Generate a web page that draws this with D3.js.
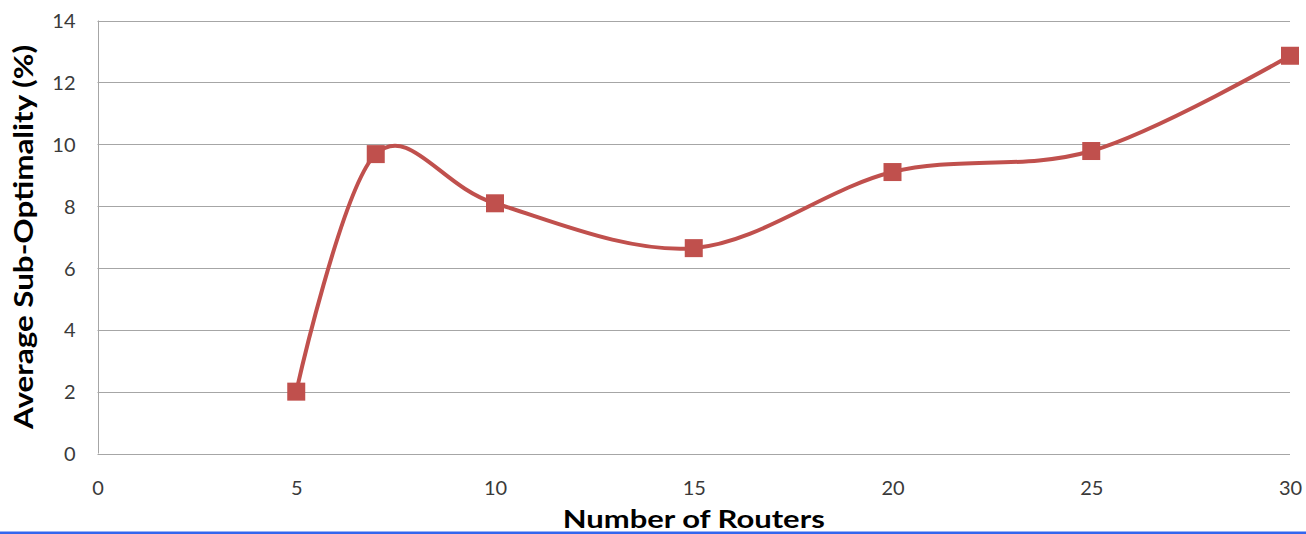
<!DOCTYPE html>
<html>
<head>
<meta charset="utf-8">
<script src="https://cdn.jsdelivr.net/npm/d3@7"></script>
<style>
  html, body { margin: 0; padding: 0; background: #fff; }
  svg { display: block; }
</style>
</head>
<body>
<svg id="chart" width="1306" height="534"></svg>
<script>
// Number of routers vs. average sub-optimality
const routers = [5, 7, 10, 15, 20, 25, 30];
const subOptimality = [2.0, 9.68, 8.09, 6.64, 9.10, 9.78, 12.86];
const xTicks = [0, 5, 10, 15, 20, 25, 30];
const yTicks = [0, 2, 4, 6, 8, 10, 12, 14];

const W = 1306, H = 534;
const margin = { left: 97.5, right: 16, top: 20.5, bottom: 80.5 };
const lineColor = "#c0504d";
const gridColor = "#a6a6a6";
const font = "Lato, 'Open Sans', sans-serif";

const svg = d3.select("#chart");

const x = d3.scaleLinear().domain([0, 30]).range([margin.left, W - margin.right]);
const y = d3.scaleLinear().domain([0, 14]).range([H - margin.bottom, margin.top]);

// horizontal gridlines
svg.append("g")
  .selectAll("line")
  .data(yTicks)
  .join("line")
  .attr("x1", x(0)).attr("x2", x(30))
  .attr("y1", d => Math.round(y(d)) + 0.5).attr("y2", d => Math.round(y(d)) + 0.5)
  .attr("stroke", gridColor).attr("stroke-width", 1);

// vertical axis line
svg.append("line")
  .attr("x1", Math.round(x(0)) + 0.5).attr("x2", Math.round(x(0)) + 0.5)
  .attr("y1", y(14)).attr("y2", y(0))
  .attr("stroke", gridColor).attr("stroke-width", 1);

// y tick labels
const yAxis = d3.axisLeft(y).tickValues(yTicks).tickSize(0).tickPadding(22);
const gy = svg.append("g").attr("transform", `translate(${x(0)},0)`).call(yAxis);
gy.select(".domain").remove();
gy.selectAll("text")
  .attr("font-family", font).attr("font-size", 20).attr("fill", "#3a3a3a")
  .attr("dy", "0.36em");

// x tick labels
const xAxis = d3.axisBottom(x).tickValues(xTicks).tickSize(0).tickPadding(24);
const gx = svg.append("g").attr("transform", `translate(0,${y(0)})`).call(xAxis);
gx.select(".domain").remove();
gx.selectAll("text")
  .attr("font-family", font).attr("font-size", 20).attr("fill", "#3a3a3a")
  .attr("dy", "0.36em")
  .attr("y", 34);

// smoothed series line
const pts = routers.map((r, i) => [r, subOptimality[i]]);
const line = d3.line()
  .x(d => x(d[0])).y(d => y(d[1]))
  .curve(d3.curveCardinal.tension(0));
svg.append("path")
  .datum(pts)
  .attr("d", line)
  .attr("fill", "none")
  .attr("stroke", lineColor)
  .attr("stroke-width", 4)
  .attr("stroke-linejoin", "round");

// square markers
const ms = 18;
svg.append("g")
  .selectAll("rect")
  .data(pts)
  .join("rect")
  .attr("x", d => x(d[0]) - ms / 2)
  .attr("y", d => y(d[1]) - ms / 2)
  .attr("width", ms).attr("height", ms)
  .attr("fill", lineColor);

// axis titles
svg.append("text")
  .attr("transform", `translate(33,${(y(0) + y(14)) / 2}) rotate(-90)`)
  .attr("text-anchor", "middle")
  .attr("font-family", font).attr("font-weight", "bold").attr("font-size", 26)
  .attr("fill", "#000")
  .attr("textLength", 384).attr("lengthAdjust", "spacingAndGlyphs")
  .text("Average Sub-Optimality (%)");

svg.append("text")
  .attr("x", (x(0) + x(30)) / 2)
  .attr("y", 528)
  .attr("text-anchor", "middle")
  .attr("font-family", font).attr("font-weight", "bold").attr("font-size", 25)
  .attr("fill", "#000")
  .attr("textLength", 262).attr("lengthAdjust", "spacingAndGlyphs")
  .text("Number of Routers");

// blue rule along the bottom edge
svg.append("rect")
  .attr("x", 0).attr("y", 531.5).attr("width", W).attr("height", 2.5)
  .attr("fill", "#3366ee");
</script>
</body>
</html>
